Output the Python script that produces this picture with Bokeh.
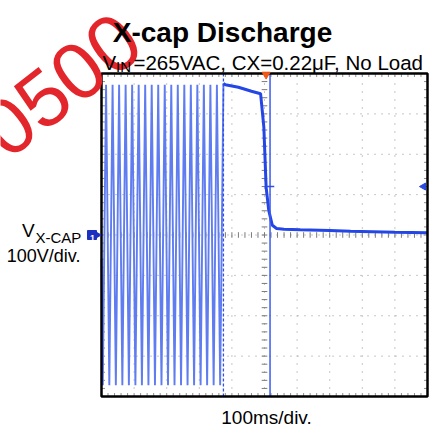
import math
from bokeh.plotting import figure
from bokeh.models import Label, Range1d
from bokeh.embed import file_html
from bokeh.resources import INLINE

# ---------------- data ----------------
# time in ms from the left edge of the screen (100 ms/div, 10 div), voltage in V (100 V/div)
ac_t_ms = [0, 4, 14, 24, 34, 44, 54, 64, 74, 84, 94, 104, 114, 124, 134, 144, 154, 164,
           174, 184, 194, 204, 214, 224, 234, 244, 254, 264, 274, 284, 294, 304, 314,
           324, 334, 344, 354, 364, 374]
ac_v = [-58, -372, 372, -372, 372, -372, 372, -372, 372, -372, 372, -372, 372, -372,
        372, -372, 372, -372, 372, -372, 372, -372, 372, -372, 372, -372, 372, -372,
        372, -372, 372, -372, 372, -372, 372, -372, 372, -372, 375]
decay_t_ms = [374, 380, 420, 460, 488, 498, 505, 513, 524, 537, 560, 610, 700, 764, 900, 1000]
decay_v = [375, 372, 366, 356, 350, 267, 118, 61, 24, 16, 14.5, 13, 11, 9.4, 7, 5.5]
ac_off_cursor_ms = 374
ref_cursor_ms = 517
trigger_pos_ms = 505
trigger_level_v = 120
trigger_mark_t_ms = [505, 530]
x_div_ms = 100
y_div_v = 100

W, H = 438, 430
OX, OY = 0, 0                           # where the canvas lands in the picture
FX0, FX1, FY0, FY1 = 101, 427, 73, 396  # scope screen in picture pixels
T0, T1, V0, V1 = 0, 1000, -400, 400      # scope screen in data units
MS_PER_PX = (T1 - T0) / (FX1 - FX0)
V_PER_PX = (V1 - V0) / (FY1 - FY0)

def tx(px):
    return T0 + (px - FX0) * MS_PER_PX

def vy(py):
    return V1 - (py - FY0) * V_PER_PX

p = figure(width=W, height=H, x_range=Range1d(tx(OX), tx(OX + W)),
           y_range=Range1d(vy(OY + H), vy(OY)),
           output_backend="svg", toolbar_location=None,
           x_axis_type=None, y_axis_type=None, min_border=0)
p.title = None
p.outline_line_color = None
p.background_fill_color = "white"
p.border_fill_color = "white"

GRID = "#8f8f8f"
# dotted graticule
gx = list(range(T0 + x_div_ms, T1, x_div_ms))
gy = list(range(V0 + y_div_v, V1, y_div_v))
p.segment(x0=gx, y0=[V0] * len(gx), x1=gx, y1=[V1] * len(gx),
          line_color=GRID, line_dash="1 7", line_width=1)
p.segment(x0=[T0] * len(gy), y0=gy, x1=[T1] * len(gy), y1=gy,
          line_color=GRID, line_dash="1 6", line_width=1)

# minor ticks: 5 per division
mx = list(range(T0 + x_div_ms // 5, T1, x_div_ms // 5))
my = list(range(V0 + y_div_v // 5, V1, y_div_v // 5))
tick_v = 3.5 * V_PER_PX
tick_t = 3.5 * MS_PER_PX
# along the frame edges, pointing inwards
p.segment(x0=mx, y0=[V0] * len(mx), x1=mx, y1=[V0 + tick_v] * len(mx), line_color=GRID)
p.segment(x0=mx, y0=[V1] * len(mx), x1=mx, y1=[V1 - tick_v] * len(mx), line_color=GRID)
p.segment(x0=[T0] * len(my), y0=my, x1=[T0 + tick_t] * len(my), y1=my, line_color=GRID)
p.segment(x0=[T1] * len(my), y0=my, x1=[T1 - tick_t] * len(my), y1=my, line_color=GRID)
# across the centre lines
tc = (T0 + T1) / 2
p.segment(x0=mx, y0=[-tick_v * 0.8] * len(mx), x1=mx, y1=[tick_v * 0.8] * len(mx),
          line_color="#7a7a7a")
p.segment(x0=[tc - tick_t * 0.8] * len(my), y0=my, x1=[tc + tick_t * 0.8] * len(my), y1=my,
          line_color="#7a7a7a")

# waveform
p.line(ac_t_ms, ac_v, line_color="#5f7cf0", line_width=1.9)
p.line(decay_t_ms, decay_v, line_color="#2446e6", line_width=3)

p.segment(x0=[ac_off_cursor_ms], y0=[V0], x1=[ac_off_cursor_ms], y1=[V1],
          line_color="#3050e6", line_dash="3 2", line_width=1.3)
p.segment(x0=[ref_cursor_ms], y0=[V0], x1=[ref_cursor_ms], y1=[V1],
          line_color="#3a5af0", line_width=1.5)
p.line(trigger_mark_t_ms, [trigger_level_v] * 2, line_color="#3050e6", line_width=1.5)
p.scatter([tx(423)], [trigger_level_v], marker="triangle", angle=math.pi / 2, size=7,
          color="#2a4ae0")

# screen frame
p.quad(left=[T0], right=[T1], bottom=[V0], top=[V1], fill_color=None,
       line_color="black", line_width=2.5)

p.scatter([trigger_pos_ms], [vy(FY0 + 1)], marker="inverted_triangle", size=8,
          color="#f05a14")

# channel-1 ground marker
p.scatter([tx(91.5)], [0], marker="square", size=9, color="#1c30c0")
p.scatter([tx(95.5)], [0], marker="triangle", angle=-math.pi / 2, size=9, color="#1c30c0")

FONT = "Liberation Sans"

def lab(text, px, py, size, align="left", bold=False, color="black", angle=0.0, **kw):
    p.add_layout(Label(x=tx(px), y=vy(py), text=text, text_font=FONT,
                       text_font_size=f"{size}px", text_align=align,
                       text_baseline="alphabetic", text_color=color, angle=angle,
                       text_font_style="bold" if bold else "normal", **kw))

# watermark
lab("0500", -10, 139, 80, color="#e3262b", angle=math.radians(38))

lab("X-cap Discharge", 222, 32, 28, align="center", bold=True)
lab("V", 102, 62, 20.5)
lab("IN", 115.5, 66, 15)
lab("=265VAC, CX=0.22\u03bcF, No Load", 133, 62, 20.5)
lab("V", 21.5, 229.5, 19)
lab("X-CAP", 35, 237, 15)
lab("100V/div.", 80, 255, 18, align="right")
lab("100ms/div.", 266, 417, 19, align="center")
lab("1", 92, 237.5, 9, align="center", bold=True, color="white")

open("out.html", "w").write(file_html(p, INLINE))
